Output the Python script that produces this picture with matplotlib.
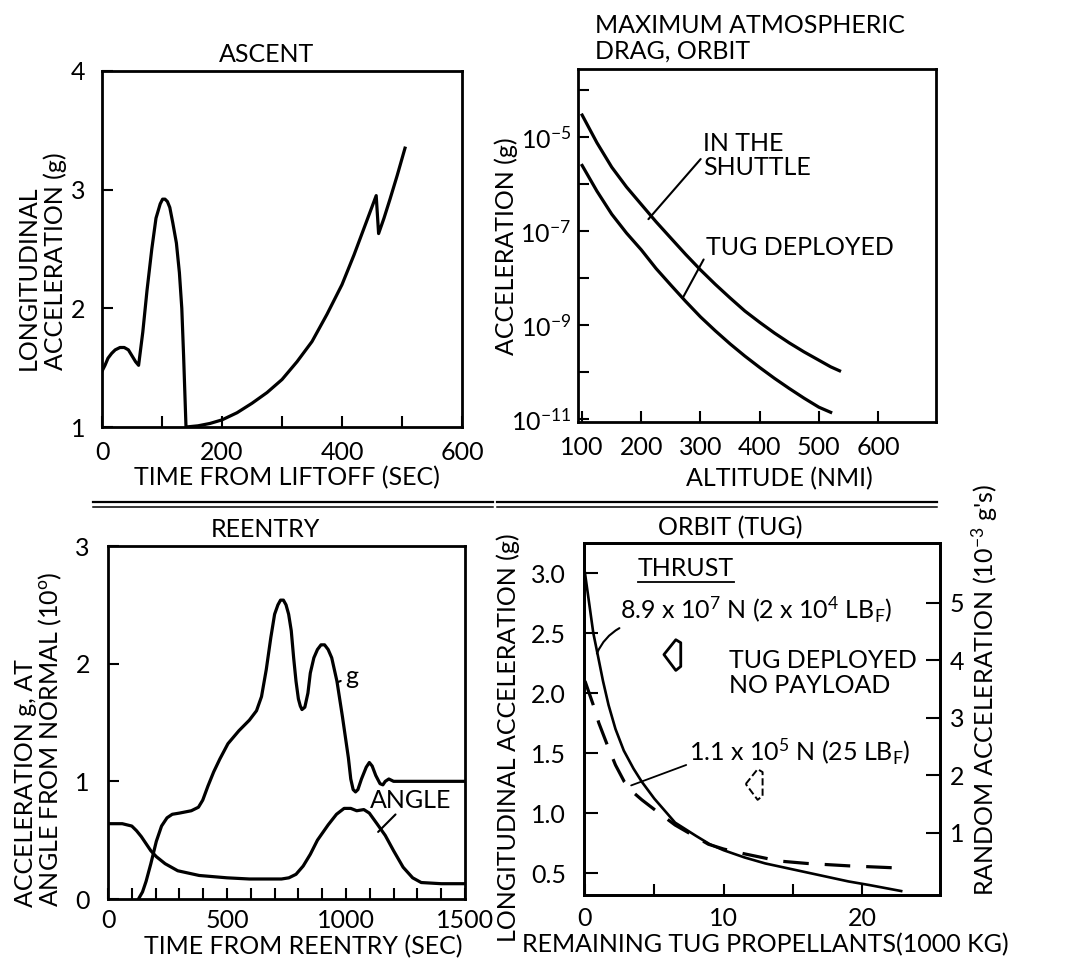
import matplotlib
matplotlib.use('Agg')
import matplotlib.pyplot as plt
from matplotlib.lines import Line2D
from matplotlib.path import Path
from matplotlib.ticker import FixedLocator, NullFormatter, FixedFormatter

plt.rcParams['font.family'] = ['Lato', 'DejaVu Sans']
plt.rcParams['mathtext.default'] = 'regular'

# ascent: longitudinal acceleration (g) vs time from liftoff (s)
asc_t = [0, 5, 10, 16, 22, 30, 37, 44, 50, 56, 61, 68, 75, 83, 90, 97, 101, 105, 109, 113,
         118, 124, 129, 133, 136, 138, 140, 160, 180, 200, 225, 250, 275, 300, 325, 350,
         375, 400, 420, 440, 457, 461, 470, 480, 492, 505]
asc_g = [1.47, 1.52, 1.58, 1.62, 1.65, 1.67, 1.67, 1.65, 1.6, 1.55, 1.52, 1.8, 2.15, 2.5,
         2.76, 2.88, 2.92, 2.92, 2.9, 2.85, 2.72, 2.55, 2.3, 2.0, 1.6, 1.3, 1.0, 1.01, 1.03,
         1.06, 1.12, 1.2, 1.29, 1.4, 1.55, 1.72, 1.95, 2.2, 2.45, 2.72, 2.95, 2.63, 2.76,
         2.92, 3.12, 3.35]

# max atmospheric drag vs altitude (nmi)
alt_shuttle = [100, 125, 150, 175, 200, 225, 250, 275, 300, 325, 350, 375, 400, 425, 450,
               475, 500, 520, 535]
acc_shuttle = [2.95e-5, 7.6e-6, 2.3e-6, 8.7e-7, 3.7e-7, 1.58e-7, 7.1e-8, 3.2e-8, 1.5e-8,
               7.4e-9, 3.8e-9, 2.0e-9, 1.15e-9, 6.8e-10, 4.2e-10, 2.7e-10, 1.8e-10,
               1.3e-10, 1.07e-10]
alt_tug = [100, 125, 150, 175, 200, 225, 250, 275, 300, 325, 350, 375, 400, 425, 450, 475,
           500, 520]
acc_tug = [2.5e-6, 7.1e-7, 2.3e-7, 9.1e-8, 4.0e-8, 1.6e-8, 7.1e-9, 3.2e-9, 1.5e-9, 7.6e-10,
           4.0e-10, 2.2e-10, 1.26e-10, 7.4e-11, 4.5e-11, 2.8e-11, 1.8e-11, 1.4e-11]

# reentry
re_t = [128, 145, 160, 180, 203, 225, 248, 270, 300, 350, 380, 398, 420, 444, 470, 504,
        550, 594, 624, 645, 665, 684, 700, 714, 725, 737, 748, 759, 770, 780, 790, 800,
        808, 815, 827, 840, 850, 865, 880, 895, 910, 925, 940, 962, 985, 1010, 1020, 1030,
        1040, 1050, 1065, 1085, 1098, 1110, 1125, 1143, 1155, 1165, 1180, 1200, 1500]
re_g = [0, 0.06, 0.15, 0.3, 0.49, 0.62, 0.69, 0.72, 0.73, 0.75, 0.78, 0.84, 0.96, 1.08,
        1.19, 1.32, 1.43, 1.52, 1.6, 1.72, 1.95, 2.22, 2.42, 2.5, 2.54, 2.54, 2.5, 2.42,
        2.28, 2.05, 1.85, 1.7, 1.64, 1.61, 1.63, 1.75, 1.92, 2.05, 2.12, 2.16, 2.16, 2.12,
        2.05, 1.85, 1.55, 1.2, 1.02, 0.93, 0.91, 0.93, 1.02, 1.12, 1.16, 1.13, 1.05, 0.98,
        0.97, 1.0, 1.02, 1.0, 1.0]
ang_t = [0, 60, 80, 100, 120, 140, 160, 180, 203, 240, 293, 383, 500, 594, 729, 760, 790,
         820, 850, 880, 925, 960, 992, 1020, 1045, 1075, 1098, 1130, 1165, 1200, 1240,
         1280, 1316, 1400, 1500]
ang_v = [0.64, 0.64, 0.63, 0.62, 0.58, 0.53, 0.47, 0.41, 0.36, 0.3, 0.24, 0.2, 0.18, 0.17,
         0.17, 0.18, 0.21, 0.28, 0.38, 0.5, 0.63, 0.72, 0.77, 0.77, 0.75, 0.76, 0.73, 0.64,
         0.54, 0.41, 0.27, 0.18, 0.14, 0.13, 0.13]

# orbit (tug): longitudinal acceleration vs remaining propellant (1000 kg)
prop_hi = [0, 0.3, 0.6, 0.9, 1.3, 1.7, 2.2, 2.8, 3.5, 4.1, 5, 6.5, 8, 9, 10, 11.5, 13, 15,
           17, 19, 20.5, 22.8]
acc_hi = [3.0, 2.75, 2.5, 2.33, 2.1, 1.9, 1.7, 1.52, 1.37, 1.26, 1.12, 0.92, 0.81, 0.74,
          0.69, 0.63, 0.58, 0.53, 0.48, 0.43, 0.40, 0.35]
prop_lo = [0, 0.3, 0.6, 1.0, 1.6, 2.2, 2.84, 3.5, 4.1, 5, 6.5, 8, 8.9, 10, 11.5, 14, 16,
           19, 23]
acc_lo = [2.1, 2.0, 1.9, 1.75, 1.57, 1.4, 1.26, 1.17, 1.11, 1.03, 0.9, 0.8, 0.74, 0.70,
          0.66, 0.6, 0.58, 0.56, 0.54]
rand_x = [6.3, 12.2]
rand_y = [4.1, 1.85]

W, H = 1067, 963
LW = 2.3
FS = 18
TS = 18


def fxy(x, y):
    return x / W, 1 - y / H


def box(l, t, r, b):
    return [l / W, 1 - b / H, (r - l) / W, (b - t) / H]


fig = plt.figure(figsize=(W / 100, H / 100), dpi=100)

tick_kw = dict(direction='in', length=8, width=1.5, labelsize=TS)
line_kw = dict(arrowstyle='-', lw=1.5, color='black', shrinkA=0, shrinkB=0)

# --- ascent
ax1 = fig.add_axes(box(102, 71, 462, 427))
ax1.plot(asc_t, asc_g, color='black', lw=LW)
ax1.set_xlim(0, 600)
ax1.set_ylim(1, 4)
ax1.set_xticks([0, 200, 400, 600])
ax1.set_xticks([100, 300, 500], minor=True)
ax1.set_yticks([1, 2, 3, 4])
ax1.tick_params(axis='both', which='both', **tick_kw)
ax1.tick_params(axis='x', pad=10)
ax1.tick_params(axis='y', pad=12)

# --- drag
ax2 = fig.add_axes(box(578, 69, 936, 422))
ax2.plot(alt_shuttle, acc_shuttle, color='black', lw=LW)
ax2.plot(alt_tug, acc_tug, color='black', lw=LW)
ax2.set_yscale('log')
ax2.set_xlim(93, 698)
ax2.set_ylim(10 ** -11.06, 10 ** -3.55)
ax2.set_xticks([100, 200, 300, 400, 500, 600])
ax2.yaxis.set_major_locator(FixedLocator([1e-11, 1e-9, 1e-7, 1e-5]))
ax2.yaxis.set_major_formatter(FixedFormatter(['$10^{-11}$', '$10^{-9}$', '$10^{-7}$', '$10^{-5}$']))
ax2.yaxis.set_minor_locator(FixedLocator([1e-10, 1e-8, 1e-6, 1e-4]))
ax2.yaxis.set_minor_formatter(NullFormatter())
ax2.tick_params(axis='both', which='both', **tick_kw)
ax2.tick_params(axis='x', pad=10)
ax2.tick_params(axis='y', pad=5)
ax2.annotate('IN THE\nSHUTTLE', xy=(212, 1.8e-7), xytext=(305, 4.0e-6), fontsize=FS,
             ha='left', va='center', linespacing=1.05,
             arrowprops=dict(relpos=(0, 0.5), **line_kw))
ax2.annotate('TUG DEPLOYED', xy=(270, 3.8e-9), xytext=(310, 4.5e-8), fontsize=FS,
             ha='left', va='center', arrowprops=dict(relpos=(0, 0.2), **line_kw))

# --- reentry
ax3 = fig.add_axes(box(108, 546, 465, 899))
ax3.plot(re_t, re_g, color='black', lw=LW)
ax3.plot(ang_t, ang_v, color='black', lw=LW)
ax3.set_xlim(0, 1500)
ax3.set_ylim(0, 3)
ax3.set_xticks([0, 500, 1000, 1500])
ax3.set_xticks([100, 200, 300, 400, 600, 700, 800, 900, 1100, 1200, 1300, 1400], minor=True)
ax3.set_yticks([0, 1, 2, 3])
ax3.tick_params(axis='both', which='both', **tick_kw)
ax3.tick_params(axis='x', pad=7)
ax3.tick_params(axis='y', pad=13)
ax3.annotate('g', xy=(962, 1.84), xytext=(995, 1.89), fontsize=FS, ha='left', va='center',
             arrowprops=dict(line_kw, shrinkA=1))
ax3.annotate('ANGLE', xy=(1135, 0.57), xytext=(1100, 0.84), fontsize=FS, ha='left',
             va='center', arrowprops=dict(relpos=(0.35, 0), **line_kw))

# --- orbit (tug)
ax4 = fig.add_axes(box(584, 543, 940, 895))
ax4.plot(prop_hi, acc_hi, color='black', lw=1.9)
ax4.plot(prop_lo, acc_lo, color='black', lw=LW, dashes=(8, 5))
ax4.set_xlim(-0.07, 25.6)
ax4.set_ylim(0.317, 3.25)
ax4.set_xticks([0, 10, 20])
ax4.set_xticks([5, 15], minor=True)
ax4.set_yticks([0.5, 1.0, 1.5, 2.0, 2.5, 3.0])
ax4.set_yticklabels(['0.5', '1.0', '1.5', '2.0', '2.5', '3.0'])
ax4.tick_params(axis='both', which='both', **tick_kw)
ax4.tick_params(axis='x', pad=9)
ax4.tick_params(axis='y', pad=13, length=10)
ax4r = ax4.twinx()
ax4r.set_ylim(-0.08, 6.04)
ax4r.set_yticks([1, 2, 3, 4, 5])
ax4r.tick_params(axis='y', direction='in', length=10, width=1.5, labelsize=TS, pad=7)

arrow = Path([(-8.5, 0), (3.5, 15), (8.5, 12), (8.5, -12), (3.5, -16), (-8.5, 0)],
             [Path.MOVETO] + [Path.LINETO] * 4 + [Path.CLOSEPOLY])
ax4r.scatter(rand_x[:1], rand_y[:1], marker=arrow, s=520, facecolors='none',
             edgecolors='black', linewidths=2)
ax4r.scatter(rand_x[1:], rand_y[1:], marker=arrow, s=520, facecolors='none',
             edgecolors='black', linewidths=1.4, linestyles='--')

thr = ax4.text(3.8, 3.04, 'THRUST', fontsize=FS, ha='left', va='center')
ax4.annotate('8.9 x 10$^{7}$ N (2 x 10$^{4}$ LB$_{F}$)', xy=(0.86, 2.33), xytext=(2.5, 2.69),
             fontsize=FS, ha='left', va='center',
             arrowprops=dict(relpos=(0.02, 0), connectionstyle='arc3,rad=0.2', **line_kw))
ax4.text(10.4, 2.17, 'TUG DEPLOYED\nNO PAYLOAD', fontsize=FS, ha='left', va='center',
         linespacing=1.1)
ax4.annotate('1.1 x 10$^{5}$ N (25 LB$_{F}$)', xy=(3.33, 1.23), xytext=(7.5, 1.51),
             fontsize=FS, ha='left', va='center',
             arrowprops=dict(line_kw, lw=1.3, relpos=(0, 0.1)))

for ax in (ax1, ax2, ax3, ax4, ax4r):
    for s in ax.spines.values():
        s.set_linewidth(2)

# titles and axis labels
fig.text(*fxy(267, 55), 'ASCENT', fontsize=FS, ha='center', va='center')
fig.text(*fxy(595, 38), 'MAXIMUM ATMOSPHERIC\nDRAG, ORBIT', fontsize=FS, ha='left',
         va='center', linespacing=1.15)
fig.text(*fxy(265, 529), 'REENTRY', fontsize=FS, ha='center', va='center')
fig.text(*fxy(730, 528), 'ORBIT (TUG)', fontsize=FS, ha='center', va='center')

fig.text(*fxy(287, 478), 'TIME FROM LIFTOFF (SEC)', fontsize=FS, ha='center', va='center')
fig.text(*fxy(779, 479), 'ALTITUDE (NMI)', fontsize=FS, ha='center', va='center')
fig.text(*fxy(303, 947), 'TIME FROM REENTRY (SEC)', fontsize=FS, ha='center', va='center')
fig.text(*fxy(522, 945), 'REMAINING TUG PROPELLANTS(1000 KG)', fontsize=FS, ha='left',
         va='center')

fig.text(*fxy(42, 370), 'LONGITUDINAL\nACCELERATION (g)', fontsize=FS, rotation=90,
         ha='center', va='bottom', multialignment='left', linespacing=1.2)
fig.text(*fxy(506, 246), 'ACCELERATION (g)', fontsize=FS, rotation=90, ha='center',
         va='center')
fig.text(*fxy(39, 907), 'ACCELERATION g, AT\nANGLE FROM NORMAL (10$^{o}$)', fontsize=FS,
         rotation=90, ha='center', va='bottom', multialignment='left', linespacing=1.0)
fig.text(*fxy(508, 738), 'LONGITUDINAL ACCELERATION (g)', fontsize=FS, rotation=90,
         ha='center', va='center')
fig.text(*fxy(985, 690), "RANDOM ACCELERATION (10$^{-3}$ g's)", fontsize=FS, rotation=90,
         ha='center', va='center')

# double separator lines
for y, lw in ((502, 1.6), (507, 1.1)):
    for x0, x1 in ((93, 493), (497, 937)):
        (a0, b0), (a1, b1) = fxy(x0, y), fxy(x1, y)
        fig.add_artist(Line2D([a0, a1], [b0, b1], color='black', lw=lw))

# underline for THRUST
fig.canvas.draw()
bb = thr.get_window_extent().transformed(ax4.transData.inverted())
ax4.plot([bb.x0, bb.x1], [bb.y0 - 0.02, bb.y0 - 0.02], color='black', lw=1.3)

fig.savefig('out.png', dpi=100)
